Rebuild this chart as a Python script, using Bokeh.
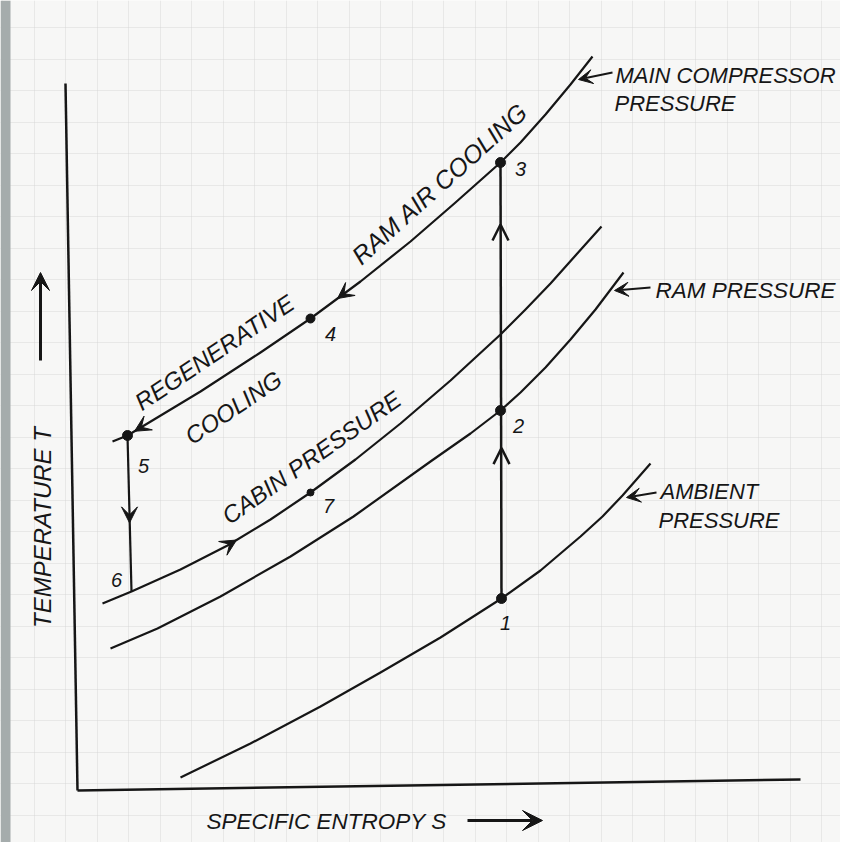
import numpy as np
from bokeh.plotting import figure
from bokeh.models import (ColumnDataSource, Range1d, Arrow, VeeHead, OpenHead,
                          Grid, FixedTicker)
from bokeh.core.properties import value
from bokeh.embed import file_html
from bokeh.resources import INLINE

# ---------------- data (s = entropy, T = temperature, arbitrary units) ----------------
main_s = [112, 127, 200, 260, 310, 360, 410, 455, 500, 520, 545, 570, 592]
main_T = [417, 423, 467, 506, 540, 577, 617, 656, 696, 716, 744, 774, 802]

cabin_s = [102, 131, 180, 227, 270, 310, 355, 400, 450, 500, 525, 550, 575, 601]
cabin_T = [255, 267, 289, 313, 339, 366, 399, 435, 478, 524, 549, 575, 603, 632]

ram_s = [110, 157, 220, 290, 353, 430, 470, 500, 520, 545, 570, 595, 623]
ram_T = [210, 230, 262, 302, 342, 397, 425, 448, 466, 491, 519, 549, 586]

amb_s = [180, 250, 320, 380, 440, 501, 540, 580, 602, 622, 650]
amb_T = [81, 115, 152, 186, 221, 260, 288, 322, 342, 363, 395]

state_names = ["1", "2", "3", "4", "5", "6", "7"]
state_s = [501, 500, 500, 310, 127, 131, 310]
state_T = [260, 448, 696, 540, 423, 267, 366]
state_dot = [10, 10, 10, 9, 10, 0, 7]
label_s = [505, 518, 520, 330, 143, 116, 328]
label_T = [236, 433, 690, 525, 393, 279, 353]

# processes: 1->2->3 (compression) and 5->6 (expansion)
comp_s = [501, 500]
comp_T = [260, 696]
exp_s = [127, 131]
exp_T = [423, 267]

# axes drawn as lines (scan is slightly rotated)
yaxis_s = [65, 77]
yaxis_T = [775, 68]
xaxis_s = [77, 800]
xaxis_T = [68, 79]

# rotated process captions
cap_text = ["RAM AIR COOLING", "REGENERATIVE", "COOLING", "CABIN PRESSURE"]
cap_s = [439, 214, 233, 311]
cap_T = [675, 506, 451, 401]
cap_angle_deg = [42, 34, 34, 35]
cap_size = ["25px", "24px", "24px", "24px"]

# curve labels (left aligned)
lab_text = ["MAIN COMPRESSOR", "PRESSURE", "RAM PRESSURE", "AMBIENT", "PRESSURE"]
lab_s = [615, 614, 655, 660, 658]
lab_T = [783, 755, 568, 367, 338]
lab_size = ["22px", "22px", "22.5px", "22px", "22px"]

# pointer arrows for curve labels (start -> end)
ptr_s0 = [612, 650, 656]
ptr_T0 = [786, 571, 366]
ptr_s1 = [578, 614, 626]
ptr_T1 = [779, 568, 361]

# ---------------- figure ----------------
W, H = 840, 842
p = figure(width=W, height=H, output_backend="svg", toolbar_location=None,
           x_range=Range1d(0, 840), y_range=Range1d(16, 858),
           x_axis_type=None, y_axis_type=None, min_border=0)
p.outline_line_color = None
p.background_fill_color = "#f7f7f6"
p.border_fill_color = "#f7f7f6"

# faint graph-paper grid
gx = Grid(dimension=0, ticker=FixedTicker(ticks=list(np.arange(2, 850, 31.5))),
          grid_line_color="#d4d4d4", grid_line_alpha=0.45, grid_line_width=1)
gy = Grid(dimension=1, ticker=FixedTicker(ticks=list(np.arange(12, 860, 31.5))),
          grid_line_color="#d4d4d4", grid_line_alpha=0.45, grid_line_width=1)
p.add_layout(gx)
p.add_layout(gy)

# grey strip of the scan at the left edge
p.quad(left=[0], right=[10], bottom=[16], top=[858], fill_color="#a5acac", line_color=None)

INK = "#161616"
# axes
p.line(yaxis_s, yaxis_T, line_color=INK, line_width=2.5)
p.line(xaxis_s, xaxis_T, line_color=INK, line_width=2.5)

# pressure curves
for xs, ys in [(main_s, main_T), (cabin_s, cabin_T), (ram_s, ram_T), (amb_s, amb_T)]:
    p.line(xs, ys, line_color=INK, line_width=2.2, line_join="round")

# processes
p.line(comp_s, comp_T, line_color=INK, line_width=2.5)
p.line(exp_s, exp_T, line_color=INK, line_width=2.2)

# state dots
dots = ColumnDataSource(dict(x=state_s, y=state_T, size=state_dot))
p.scatter("x", "y", size="size", source=dots, fill_color=INK, line_color=INK)

FONT = value("Liberation Sans")

# state numbers
nums = ColumnDataSource(dict(x=label_s, y=label_T, t=state_names))
p.text("x", "y", text="t", source=nums, text_font=FONT, text_font_style="italic",
       text_font_size="20px", text_color=INK, text_align="center", text_baseline="middle")

# rotated captions
caps = ColumnDataSource(dict(x=cap_s, y=cap_T, t=cap_text, fs=cap_size,
                             a=list(np.radians(cap_angle_deg))))
p.text("x", "y", text="t", angle="a", source=caps, text_font=FONT,
       text_font_style="italic", text_font_size="fs", text_color=INK,
       text_align="center", text_baseline="middle")

# curve labels
labs = ColumnDataSource(dict(x=lab_s, y=lab_T, t=lab_text, fs=lab_size))
p.text("x", "y", text="t", source=labs, text_font=FONT, text_font_style="italic",
       text_font_size="fs", text_color=INK, text_align="left", text_baseline="middle")

# axis titles
p.text([206], [37], text=["SPECIFIC ENTROPY S"], text_font=FONT, text_font_style="italic",
       text_font_size="22.5px", text_color=INK, text_align="left", text_baseline="middle")
p.text([42], [331], text=["TEMPERATURE T"], angle=[np.pi / 2], text_font=FONT,
       text_font_style="italic", text_font_size="24px", text_color=INK,
       text_align="center", text_baseline="middle")

# axis arrows
p.add_layout(Arrow(end=VeeHead(size=20, fill_color=INK, line_color=INK),
                   x_start=467, y_start=38, x_end=542, y_end=38,
                   line_color=INK, line_width=3))
p.add_layout(Arrow(end=VeeHead(size=18, fill_color=INK, line_color=INK),
                   x_start=40, y_start=498, x_end=40, y_end=586,
                   line_color=INK, line_width=3))

# label pointer arrows
ptr = ColumnDataSource(dict(x0=ptr_s0, y0=ptr_T0, x1=ptr_s1, y1=ptr_T1))
p.add_layout(Arrow(end=VeeHead(size=14, fill_color=INK, line_color=INK),
                   source=ptr, x_start="x0", y_start="y0", x_end="x1", y_end="y1",
                   line_color=INK, line_width=1.8))


# flow arrowheads placed along the curves
def along(xs, ys, s_tip, direction):
    t = float(np.interp(s_tip, xs, ys))
    t2 = float(np.interp(s_tip - direction * 6, xs, ys))
    return s_tip - direction * 6, t2, s_tip, t


heads = []
heads.append(along(main_s, main_T, 337, -1))    # 3 -> 4
heads.append(along(main_s, main_T, 134, -1))    # 4 -> 5
heads.append(along(cabin_s, cabin_T, 236, +1))  # 6 -> 7
for (x0, y0, x1, y1) in heads:
    p.add_layout(Arrow(end=VeeHead(size=16, fill_color=INK, line_color=INK),
                       x_start=x0, y_start=y0, x_end=x1, y_end=y1,
                       line_alpha=0, line_width=1))

# vertical process arrowheads (5 -> 6 downward, 1 -> 2 and 2 -> 3 upward)
tip56 = float(np.interp(0.56, [0, 1], exp_T))
p.add_layout(Arrow(end=VeeHead(size=16, fill_color=INK, line_color=INK),
                   x_start=129, y_start=tip56 + 8, x_end=129, y_end=tip56, line_alpha=0))
tip12 = state_T[0] + 0.8 * (state_T[1] - state_T[0])
tip23 = state_T[1] + 0.75 * (state_T[2] - state_T[1])
p.add_layout(Arrow(end=OpenHead(size=16, line_color=INK, line_width=2.5),
                   x_start=501, y_start=tip12 - 12, x_end=501, y_end=tip12, line_alpha=0))
p.add_layout(Arrow(end=OpenHead(size=16, line_color=INK, line_width=2.5),
                   x_start=500, y_start=tip23 - 12, x_end=500, y_end=tip23, line_alpha=0))

open("out.html", "w").write(file_html(p, INLINE))
